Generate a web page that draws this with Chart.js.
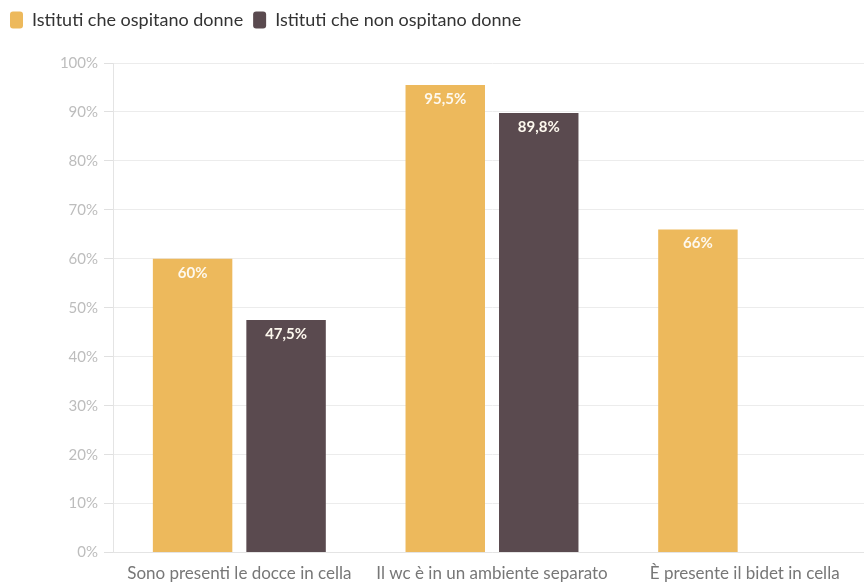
<!DOCTYPE html>
<html>
<head>
<meta charset="utf-8">
<script src="https://cdn.jsdelivr.net/npm/chart.js@4"></script>
<style>
  html, body { margin: 0; padding: 0; background: #fff; overflow: hidden; }
  #wrap { position: relative; width: 880px; height: 589px; }
</style>
</head>
<body>
<div id="wrap"><canvas id="myChart"></canvas></div>
<script>
const categories = ['Sono presenti le docce in cella', 'Il wc è in un ambiente separato', 'È presente il bidet in cella'];
const conDonne = [60, 95.5, 66];
const senzaDonne = [47.5, 89.8, null];
const seriesNames = ['Istituti che ospitano donne', 'Istituti che non ospitano donne'];
const yTicks = [0, 10, 20, 30, 40, 50, 60, 70, 80, 90, 100];

function fmt(v) {
    return String(v).replace('.', ',') + '%';
}

// scrive il valore in bianco dentro la cima di ogni barra
const valueLabels = {
    id: 'valueLabels',
    afterDatasetsDraw(chart) {
        const ctx = chart.ctx;
        ctx.save();
        ctx.font = 'bold 15px Lato';
        ctx.fillStyle = '#fdf8ee';
        ctx.textAlign = 'center';
        ctx.textBaseline = 'middle';
        chart.data.datasets.forEach((ds, i) => {
            chart.getDatasetMeta(i).data.forEach((bar, j) => {
                if (ds.data[j] == null) return;
                ctx.fillText(fmt(ds.data[j]), bar.x, bar.y + 14);
            });
        });
        ctx.restore();
    }
};

// più spazio sotto la legenda
const legendGap = {
    id: 'legendGap',
    beforeInit(chart) {
        const fit = chart.legend.fit;
        chart.legend.fit = function () {
            fit.call(this);
            this.height += 24;
        };
    }
};

const ctx = document.getElementById('myChart').getContext('2d');
const chart = new Chart(ctx, {
    type: 'bar',
    data: {
        labels: categories,
        datasets: [{
            label: seriesNames[0],
            data: conDonne,
            backgroundColor: '#EDB95C',
            categoryPercentage: 0.74,
            barPercentage: 0.85
        }, {
            label: seriesNames[1],
            data: senzaDonne,
            backgroundColor: '#5A4A4F',
            categoryPercentage: 0.74,
            barPercentage: 0.85
        }]
    },
    options: {
        responsive: true,
        maintainAspectRatio: false,
        animation: false,
        layout: { padding: { left: 0, right: 9, top: 1, bottom: 2 } },
        plugins: {
            tooltip: { enabled: false },
            legend: {
                position: 'top',
                align: 'start',
                labels: {
                    font: { family: 'Lato', size: 18 },
                    color: '#333',
                    boxWidth: 13,
                    boxHeight: 17,
                    padding: 10,
                    useBorderRadius: true,
                    borderRadius: 3
                }
            }
        },
        scales: {
            x: {
                grid: { display: false },
                border: { color: '#e4e4e4' },
                ticks: {
                    font: { family: 'Lato', size: 17 },
                    color: '#777',
                    padding: 3
                }
            },
            y: {
                min: 0,
                max: 100,
                afterBuildTicks(axis) {
                    axis.ticks = yTicks.map(v => ({ value: v }));
                },
                grid: { color: '#ececec', tickLength: 9, tickColor: '#e0e0e0' },
                border: { color: '#e4e4e4' },
                ticks: {
                    font: { family: 'Lato', size: 15 },
                    color: '#bdbdbd',
                    padding: 6,
                    callback: v => v + '%'
                },
                afterFit(axis) { axis.width = 113; }
            }
        }
    },
    plugins: [valueLabels, legendGap]
});
</script>
</body>
</html>
